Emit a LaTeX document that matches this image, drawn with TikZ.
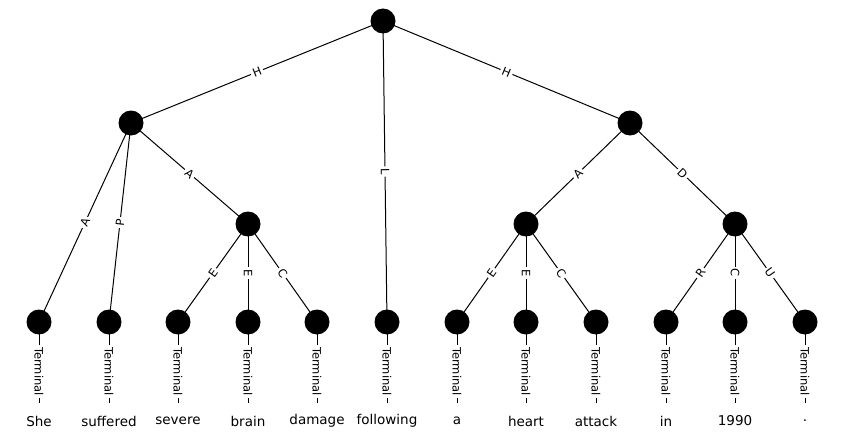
\documentclass[tikz,border=0pt]{standalone}
\usepackage{fontspec}
\setmainfont{DejaVu Sans}
\begin{document}
\begin{tikzpicture}[x=1pt,y=-1pt,
  tn/.style={circle,fill=black,minimum size=25pt,inner sep=0pt},
  wd/.style={font=\fontsize{13.5}{15}\selectfont,inner sep=0pt},
  el/.style={sloped,fill=white,inner sep=2pt,font=\fontsize{11.5}{13}\selectfont},
  ed/.style={line width=1pt},
  te/.style={line width=1pt,shorten >=18pt}]
\useasboundingbox (0,0) rectangle (844,444);
% internal nodes
\node[tn] (r) at (383,21) {};
\node[tn] (p1) at (131,123) {};
\node[tn] (p2) at (630,123) {};
\node[tn] (q1) at (248,224) {};
\node[tn] (q2) at (526,224) {};
\node[tn] (q3) at (735,224) {};
% leaves
\foreach \i/\x in {1/39,2/109,3/178,4/248,5/317,6/387,7/457,8/526,9/596,10/666,11/735,12/805}
  \node[tn] (t\i) at (\x,322) {};
% words
\node[wd] (w1) at (39,421) {She};
\node[wd] (w2) at (109,421) {suffered};
\node[wd] (w3) at (178,421) {severe};
\node[wd] (w4) at (248,421) {brain};
\node[wd] (w5) at (317,421) {damage};
\node[wd] (w6) at (387,421) {following};
\node[wd] (w7) at (457,421) {a};
\node[wd] (w8) at (526,421) {heart};
\node[wd] (w9) at (596,421) {attack};
\node[wd] (w10) at (666,421) {in};
\node[wd] (w11) at (735,421) {1990};
\node[wd] (w12) at (805,421) {.};
% edges
\draw[ed] (r.center) -- node[el]{H} (p1.center);
\draw[ed] (r.center) -- node[el]{L} (t6.center);
\draw[ed] (r.center) -- node[el]{H} (p2.center);
\draw[ed] (p1.center) -- node[el]{A} (t1.center);
\draw[ed] (p1.center) -- node[el]{P} (t2.center);
\draw[ed] (p1.center) -- node[el]{A} (q1.center);
\draw[ed] (q1.center) -- node[el]{E} (t3.center);
\draw[ed] (q1.center) -- node[el]{E} (t4.center);
\draw[ed] (q1.center) -- node[el]{C} (t5.center);
\draw[ed] (p2.center) -- node[el]{A} (q2.center);
\draw[ed] (p2.center) -- node[el]{D} (q3.center);
\draw[ed] (q2.center) -- node[el]{E} (t7.center);
\draw[ed] (q2.center) -- node[el]{E} (t8.center);
\draw[ed] (q2.center) -- node[el]{C} (t9.center);
\draw[ed] (q3.center) -- node[el]{R} (t10.center);
\draw[ed] (q3.center) -- node[el]{C} (t11.center);
\draw[ed] (q3.center) -- node[el]{U} (t12.center);
\foreach \i in {1,...,12}
  \draw[te] (t\i.center) -- node[el]{Terminal} (w\i.center);
\end{tikzpicture}
\end{document}
